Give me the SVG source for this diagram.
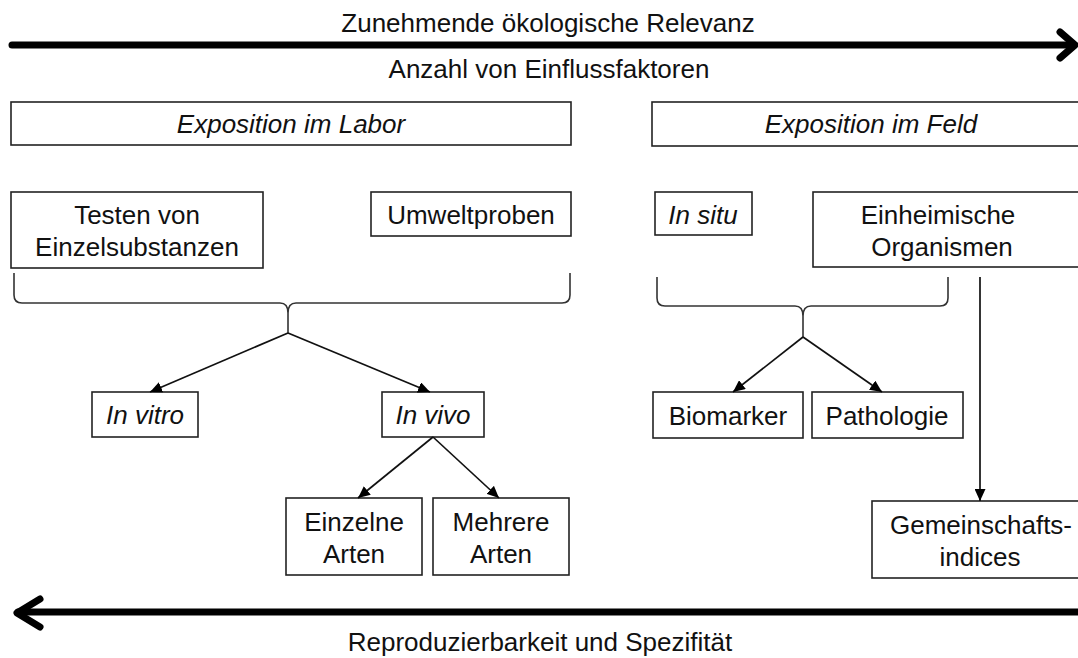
<svg xmlns="http://www.w3.org/2000/svg" width="1078" height="658" viewBox="0 0 1078 658">
<style>
.box{fill:#fff;stroke:#222;stroke-width:1.6}
.t{font-family:"Liberation Sans",Arial,sans-serif;font-size:26px;fill:#111;text-anchor:middle}
.i{font-style:italic}
.conn{fill:none;stroke:#111;stroke-width:1.7}
.brace{fill:none;stroke:#333;stroke-width:1.6}
.big{fill:none;stroke:#000;stroke-width:7;stroke-linecap:round;stroke-linejoin:round}
</style>
<defs>
<marker id="ah" markerUnits="userSpaceOnUse" markerWidth="13" markerHeight="11" refX="12" refY="5.5" orient="auto">
<path d="M0,0 L12,5.5 L0,11 z" fill="#000"/>
</marker>
</defs>
<rect width="1078" height="658" fill="#fff"/>

<g id="axis-top">
<line class="big" x1="12" y1="45" x2="1072" y2="45"/>
<polyline class="big" points="1060,32 1075,45 1060,58"/>
<text class="t" x="548" y="32">Zunehmende ökologische Relevanz</text>
<text class="t" x="549" y="78">Anzahl von Einflussfaktoren</text>
</g>

<g id="axis-bottom">
<line class="big" x1="18" y1="612" x2="1085" y2="612"/>
<polyline class="big" points="40,599 17,613 40,627"/>
<text class="t" x="540" y="651">Reproduzierbarkeit und Spezifität</text>
</g>

<g id="labor"><rect class="box" x="11" y="102" width="560" height="43"/><text class="t i" x="291" y="133">Exposition im Labor</text></g>
<g id="feld"><rect class="box" x="652" y="102" width="440" height="44"/><text class="t i" x="871" y="133">Exposition im Feld</text></g>

<g id="testen"><rect class="box" x="11" y="192" width="252" height="76"/><text class="t" x="137" y="224">Testen von</text><text class="t" x="137" y="256">Einzelsubstanzen</text></g>
<g id="umwelt"><rect class="box" x="371" y="192" width="200" height="44"/><text class="t" x="471" y="224">Umweltproben</text></g>
<g id="insitu"><rect class="box" x="655" y="192" width="97" height="43"/><text class="t i" x="703" y="224">In situ</text></g>
<g id="einheimisch"><rect class="box" x="813" y="192" width="280" height="75"/><text class="t" x="938" y="224">Einheimische</text><text class="t" x="942" y="256">Organismen</text></g>

<g id="invitro"><rect class="box" x="92" y="392" width="106" height="45"/><text class="t i" x="145" y="424">In vitro</text></g>
<g id="invivo"><rect class="box" x="382" y="392" width="102" height="45"/><text class="t i" x="433" y="424">In vivo</text></g>
<g id="biomarker"><rect class="box" x="653" y="392" width="150" height="46"/><text class="t" x="728" y="425">Biomarker</text></g>
<g id="pathologie"><rect class="box" x="812" y="392" width="151" height="46"/><text class="t" x="887" y="425">Pathologie</text></g>

<g id="einzelne"><rect class="box" x="286" y="498" width="136" height="77"/><text class="t" x="354" y="531">Einzelne</text><text class="t" x="354" y="563">Arten</text></g>
<g id="mehrere"><rect class="box" x="433" y="498" width="136" height="77"/><text class="t" x="501" y="531">Mehrere</text><text class="t" x="501" y="563">Arten</text></g>
<g id="gemeinschaft"><rect class="box" x="872" y="501" width="220" height="77"/><text class="t" x="981" y="534">Gemeinschafts-</text><text class="t" x="980" y="566">indices</text></g>

<g id="connectors">
<path class="brace" d="M14,273 V295 Q14,303 22,303 H280 Q288,303 288,313 V333 M570,273 V295 Q570,303 562,303 H296 Q288,303 288,313"/>
<path class="brace" d="M657,277 V298 Q657,306 665,306 H795 Q803,306 803,316 V337 M948,277 V298 Q948,306 940,306 H811 Q803,306 803,316"/>
<line class="conn" x1="288" y1="333" x2="150" y2="392" marker-end="url(#ah)"/>
<line class="conn" x1="288" y1="333" x2="430" y2="392" marker-end="url(#ah)"/>
<line class="conn" x1="433" y1="437" x2="358" y2="498" marker-end="url(#ah)"/>
<line class="conn" x1="433" y1="437" x2="499" y2="498" marker-end="url(#ah)"/>
<line class="conn" x1="803" y1="337" x2="733" y2="392" marker-end="url(#ah)"/>
<line class="conn" x1="803" y1="337" x2="882" y2="392" marker-end="url(#ah)"/>
<line class="conn" x1="980" y1="277" x2="980" y2="501" stroke-width="2.4" marker-end="url(#ah)"/>
</g>
</svg>
